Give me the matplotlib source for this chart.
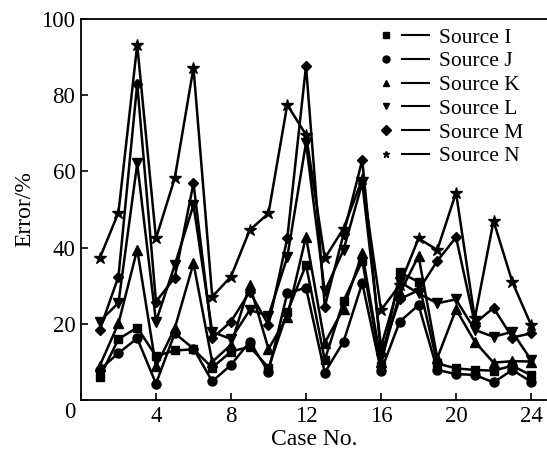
import matplotlib
matplotlib.use("Agg")
import matplotlib.pyplot as plt
from matplotlib.lines import Line2D
from matplotlib.legend_handler import HandlerTuple

plt.rcParams['font.family'] = ['Liberation Serif', 'DejaVu Serif']

# numero do caso
casos = list(range(1, 25))

src_i = [6, 16, 19, 11.5, 13, 13.3, 8.5, 12.7, 14, 8.5, 23, 35.5,
         10.5, 26, 36.5, 9, 33.5, 31, 9.6, 8.3, 7.9, 7.7, 9, 6.5]
src_j = [8, 12.3, 16.2, 4.3, 17.5, 13.5, 4.9, 9.2, 15.3, 7.4, 28, 29.5,
         7.2, 15.3, 30.7, 7.6, 20.6, 24.9, 7.9, 6.8, 6.6, 4.6, 7.9, 4.8]
src_k = [9, 20.1, 39.5, 8.8, 18.8, 35.9, 10, 14.5, 30.2, 13.4, 21.9, 42.9,
         15, 24, 38.5, 10, 28, 37.8, 11, 23.8, 15.3, 9.8, 10.2, 10.1]
src_l = [20.6, 25.5, 62.1, 20.6, 35.4, 51.2, 17.9, 16, 23.6, 22.1, 37.5, 67.5,
         28.5, 39.4, 57, 14, 31, 28, 25.4, 26.4, 18.4, 16.6, 17.9, 10.5]
src_m = [18.4, 32.4, 83, 25.8, 32.1, 56.9, 16.2, 20.6, 28.4, 19.7, 42.4, 87.7,
         24.5, 43.5, 63, 12, 26.5, 28.8, 36.5, 42.7, 20.1, 24.2, 16.4, 17.5]
src_n = [37.2, 49.2, 93.2, 42.4, 58.2, 87.2, 27.1, 32.4, 44.6, 49, 77.5, 69.6,
         37.2, 45, 58, 23.6, 30.2, 42.4, 39.4, 54.4, 21.4, 47, 31, 19.7]

nomes = ['Source I', 'Source J', 'Source K', 'Source L', 'Source M', 'Source N']
series = [src_i, src_j, src_k, src_l, src_m, src_n]
marcas = ['s', 'o', '^', 'v', 'D', '*']
tamanhos = [6, 6.5, 7, 7, 5.5, 9]

fig = plt.figure(figsize=(5.47, 4.57), dpi=100)
ax = fig.add_axes([0.148, 0.1247, 0.852, 0.8337])

for y, m, s in zip(series, marcas, tamanhos):
    ax.plot(casos, y, color='k', lw=1.8, marker=m, ms=s, mfc='k', mec='k')

ax.set_xlim(0, 24.85)
ax.set_ylim(0, 100)
ax.set_xticks(range(0, 25, 4))
ax.set_xticklabels(['', '4', '8', '12', '16', '20', '24'])
ax.set_yticks(range(0, 101, 20))
ax.set_yticklabels(['', '20', '40', '60', '80', '100'])
ax.tick_params(direction='in', length=5, width=1.2, labelsize=16.5, pad=4)
ax.text(-0.024, -0.005, '0', transform=ax.transAxes, fontsize=16.5,
        ha='center', va='top')
ax.spines['right'].set_visible(False)
for lado in ['left', 'bottom', 'top']:
    ax.spines[lado].set_linewidth(1.3)

ax.set_xlabel('Case No.', fontsize=17, labelpad=2)
ax.set_ylabel('Error/%', fontsize=17, labelpad=4)

# legenda: marcador e depois um tracinho
handles = []
for m in marcas:
    pm = Line2D([], [], ls='none', marker=m, color='k', ms=5)
    pl = Line2D([], [], color='k', lw=1.5)
    handles.append((pm, pl))
ax.legend(handles, nomes, handler_map={tuple: HandlerTuple(ndivide=2, pad=0.1)},
          loc='upper left', bbox_to_anchor=(0.608, 1.0), frameon=False,
          fontsize=15.5, handlelength=2.6, handletextpad=0.45,
          labelspacing=0.17, borderaxespad=0)

fig.savefig('out.png', dpi=100)
